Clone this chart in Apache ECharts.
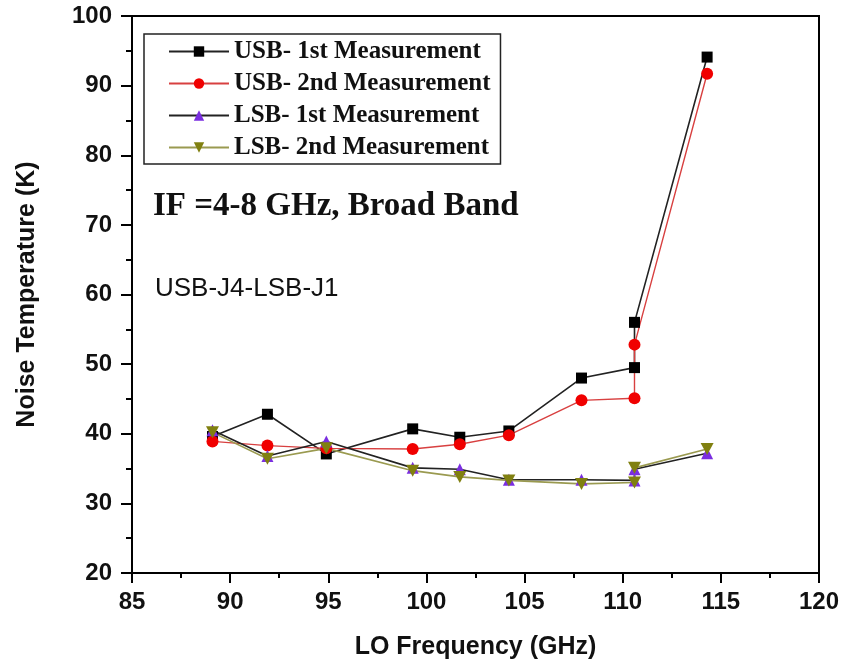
<!DOCTYPE html>
<html>
<head>
<meta charset="utf-8">
<script src="https://cdn.jsdelivr.net/npm/echarts@6/dist/echarts.min.js"></script>
<style>
  html, body { margin: 0; padding: 0; background: #fff; }
  #chart { width: 845px; height: 666px; }
</style>
</head>
<body>
<div id="chart"></div>
<script>
// LO frequencies (GHz) - 110.6 was measured twice
const loFreq = [89.1, 91.9, 94.9, 99.3, 101.7, 104.2, 107.9, 110.6, 110.6, 114.3]

// noise temperature (K)
const usb1 = [39.6, 42.8, 37.1, 40.7, 39.5, 40.4, 48.0, 49.5, 56.0, 94.1]
const usb2 = [38.9, 38.3, 37.9, 37.8, 38.5, 39.8, 44.8, 45.1, 52.8, 91.7]
const lsb1 = [40.5, 36.8, 38.9, 35.1, 34.9, 33.4, 33.4, 33.3, 34.9, 37.2]
const lsb2 = [40.2, 36.4, 37.9, 34.7, 33.8, 33.3, 32.8, 33.0, 35.1, 37.8]

const seriesNames = [
  'USB- 1st Measurement',
  'USB- 2nd Measurement',
  'LSB- 1st Measurement',
  'LSB- 2nd Measurement'
]

const xTicks = { min: 85, max: 120, interval: 5 }
const yTicks = { min: 20, max: 100, interval: 10 }

const chart = echarts.init(document.getElementById('chart'))

const pairs = (ys) => loFreq.map((x, i) => [x, ys[i]])

const downTriangle = 'path://M0,0L10,0L5,9Z'

const axisFont = {
  fontFamily: 'Liberation Sans, Arial, sans-serif',
  fontWeight: 'bold',
  color: '#111'
}

const option = {
  backgroundColor: '#fff',
  animation: false,
  grid: {
    left: 132,
    right: 26,
    top: 16,
    bottom: 93,
    show: true,
    borderColor: '#000',
    borderWidth: 2,
    backgroundColor: 'transparent'
  },
  legend: {
    orient: 'vertical',
    left: 144,
    top: 34,
    padding: [5, 10, 4, 24],
    itemWidth: 60,
    itemHeight: 13,
    itemGap: 7,
    backgroundColor: '#fff',
    borderColor: '#222',
    borderWidth: 1.5,
    data: seriesNames,
    textStyle: {
      fontFamily: 'Liberation Serif, Times New Roman, serif',
      fontWeight: 'bold',
      fontSize: 25,
      color: '#111'
    }
  },
  xAxis: {
    type: 'value',
    min: xTicks.min,
    max: xTicks.max,
    interval: xTicks.interval,
    name: 'LO Frequency (GHz)',
    nameLocation: 'middle',
    nameGap: 62,
    nameTextStyle: { ...axisFont, fontSize: 25 },
    axisLine: { onZero: false, lineStyle: { color: '#000', width: 2 } },
    axisTick: { inside: false, length: 10, lineStyle: { color: '#000', width: 2 } },
    minorTick: { show: true, splitNumber: 2, length: 5, lineStyle: { color: '#000', width: 2 } },
    axisLabel: { ...axisFont, fontSize: 24, margin: 17 },
    splitLine: { show: false }
  },
  yAxis: {
    type: 'value',
    min: yTicks.min,
    max: yTicks.max,
    interval: yTicks.interval,
    name: 'Noise Temperature (K)',
    nameLocation: 'middle',
    nameGap: 92,
    nameTextStyle: { ...axisFont, fontSize: 25 },
    axisLine: { onZero: false, lineStyle: { color: '#000', width: 2 } },
    axisTick: { inside: false, length: 11, lineStyle: { color: '#000', width: 2 } },
    minorTick: { show: true, splitNumber: 2, length: 6, lineStyle: { color: '#000', width: 2 } },
    axisLabel: { ...axisFont, fontSize: 24, margin: 20 },
    splitLine: { show: false }
  },
  graphic: [
    {
      type: 'text',
      left: 153,
      top: 190,
      style: {
        text: 'IF =4-8 GHz, Broad Band',
        font: 'bold 33px "Liberation Serif", "Times New Roman", serif',
        fill: '#111'
      }
    },
    {
      type: 'text',
      left: 155,
      top: 276,
      style: {
        text: 'USB-J4-LSB-J1',
        font: '26px "Liberation Sans", Arial, sans-serif',
        fill: '#111'
      }
    }
  ],
  series: [
    {
      name: seriesNames[0],
      type: 'line',
      data: pairs(usb1),
      symbol: 'rect',
      symbolSize: 11,
      itemStyle: { color: '#000' },
      lineStyle: { color: '#222', width: 1.6 }
    },
    {
      name: seriesNames[1],
      type: 'line',
      data: pairs(usb2),
      symbol: 'circle',
      symbolSize: 12,
      itemStyle: { color: '#f00000' },
      lineStyle: { color: '#d84040', width: 1.4 }
    },
    {
      name: seriesNames[2],
      type: 'line',
      data: pairs(lsb1),
      symbol: 'triangle',
      symbolSize: 12,
      itemStyle: { color: '#7a2ee0' },
      lineStyle: { color: '#222', width: 1.6 }
    },
    {
      name: seriesNames[3],
      type: 'line',
      data: pairs(lsb2),
      symbol: downTriangle,
      symbolSize: [13, 12],
      itemStyle: { color: '#808010' },
      lineStyle: { color: '#9a9a50', width: 1.6 }
    }
  ]
}

chart.setOption(option)
</script>
</body>
</html>
